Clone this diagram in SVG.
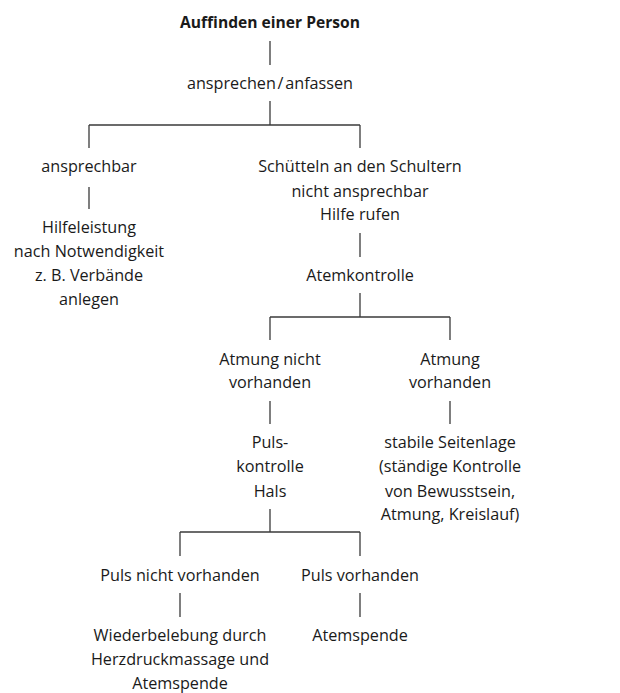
<svg xmlns="http://www.w3.org/2000/svg" width="620" height="693" viewBox="0 0 620 693">
<style>
text{font-family:"Open Sans","Liberation Sans",sans-serif;font-size:16.2px;fill:#1a1a1a;text-anchor:middle}
.b{font-weight:bold;font-size:15.6px}
.t{word-spacing:-2.5px}
#connectors line{stroke:#3a3a3a;stroke-width:1.3;fill:none}
</style>
<rect width="620" height="693" fill="#fff"/>
<g id="connectors">
<line x1="270" y1="41" x2="270" y2="65"/>
<line x1="270" y1="101" x2="270" y2="125"/>
<line x1="89" y1="125" x2="360" y2="125"/>
<line x1="89" y1="125" x2="89" y2="148"/>
<line x1="360" y1="125" x2="360" y2="148"/>
<line x1="89" y1="187" x2="89" y2="209"/>
<line x1="360" y1="233" x2="360" y2="257"/>
<line x1="360" y1="293" x2="360" y2="317"/>
<line x1="270" y1="317" x2="450" y2="317"/>
<line x1="270" y1="317" x2="270" y2="340"/>
<line x1="450" y1="317" x2="450" y2="340"/>
<line x1="270" y1="401" x2="270" y2="424"/>
<line x1="450" y1="401" x2="450" y2="424"/>
<line x1="270" y1="509" x2="270" y2="532"/>
<line x1="180" y1="532" x2="360" y2="532"/>
<line x1="180" y1="532" x2="180" y2="556"/>
<line x1="360" y1="532" x2="360" y2="556"/>
<line x1="180" y1="593" x2="180" y2="617"/>
<line x1="360" y1="593" x2="360" y2="617"/>
</g>
<g id="n-auffinden"><text class="b" x="270" y="28">Auffinden einer Person</text></g>
<g id="n-ansprechen"><text class="t" x="270" y="89">ansprechen / anfassen</text></g>
<g id="n-ansprechbar"><text x="89" y="172">ansprechbar</text></g>
<g id="n-schuetteln"><text x="360" y="172">Schütteln an den Schultern</text><text x="360" y="197">nicht ansprechbar</text><text x="360" y="220">Hilfe rufen</text></g>
<g id="n-hilfeleistung"><text x="89" y="233">Hilfeleistung</text><text x="89" y="257">nach Notwendigkeit</text><text x="89" y="281">z. B. Verbände</text><text x="89" y="305">anlegen</text></g>
<g id="n-atemkontrolle"><text x="360" y="281">Atemkontrolle</text></g>
<g id="n-atmung-nicht"><text x="270" y="365">Atmung nicht</text><text x="270" y="388">vorhanden</text></g>
<g id="n-atmung-vorhanden"><text x="450" y="365">Atmung</text><text x="450" y="388">vorhanden</text></g>
<g id="n-pulskontrolle"><text x="270" y="448">Puls-</text><text x="270" y="472">kontrolle</text><text x="270" y="497">Hals</text></g>
<g id="n-seitenlage"><text x="450" y="448">stabile Seitenlage</text><text x="450" y="472">(ständige Kontrolle</text><text x="450" y="497">von Bewusstsein,</text><text x="450" y="520">Atmung, Kreislauf)</text></g>
<g id="n-puls-nicht"><text x="180" y="581">Puls nicht vorhanden</text></g>
<g id="n-puls-vorhanden"><text x="360" y="581">Puls vorhanden</text></g>
<g id="n-wiederbelebung"><text x="180" y="641">Wiederbelebung durch</text><text x="180" y="665">Herzdruckmassage und</text><text x="180" y="689">Atemspende</text></g>
<g id="n-atemspende"><text x="360" y="641">Atemspende</text></g>
</svg>
